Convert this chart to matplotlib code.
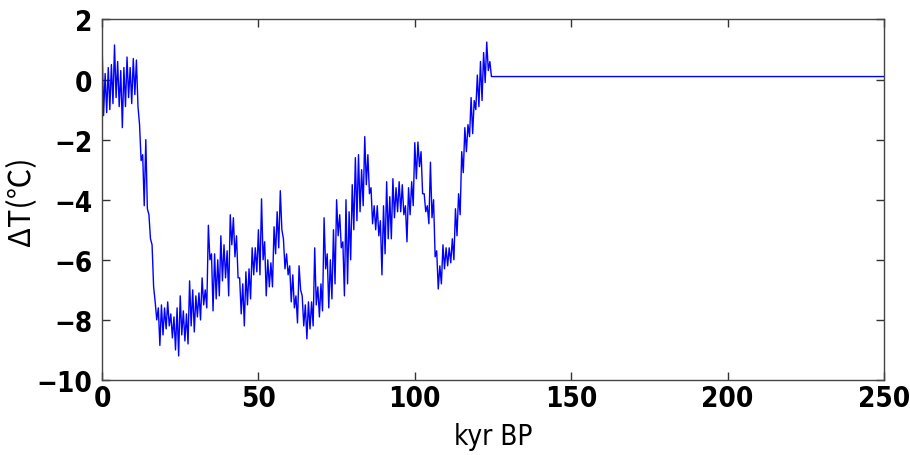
import matplotlib
matplotlib.use("Agg")
import matplotlib.pyplot as plt
from matplotlib import font_manager
import numpy as np

kyr = list(range(0, 125))
dt_high = [
    1.3, 0.2, 0.4, 0.5, 1.15, 0.6, 0.3, 0.4, 0.75, 0.4,
    0.7, 0.65, -1.5, -2.5, -2.0, -4.5, -5.5, -7.4, -7.6, -7.5,
    -7.6, -7.4, -7.8, -7.9, -7.6, -7.2, -7.7, -7.8, -6.7, -7.0,
    -7.2, -7.1, -6.6, -7.0, -4.85, -5.8, -5.8, -6.0, -5.2, -5.5,
    -5.7, -4.5, -4.6, -5.2, -6.6, -6.8, -6.4, -6.3, -5.6, -5.6,
    -5.0, -3.97, -5.4, -6.0, -6.1, -4.9, -4.4, -3.7, -5.3, -5.8,
    -6.2, -6.5, -7.2, -6.2, -7.2, -7.5, -7.4, -7.4, -5.6, -6.9,
    -6.8, -4.6, -5.8, -6.0, -5.0, -4.0, -4.5, -5.4, -4.0, -4.4,
    -3.5, -2.6, -2.5, -3.0, -1.9, -2.5, -3.6, -4.2, -4.2, -4.7,
    -4.2, -3.4, -3.9, -3.3, -3.6, -3.4, -3.5, -4.2, -3.6, -3.4,
    -2.1, -2.08, -2.4, -3.8, -4.2, -2.75, -4.0, -5.7, -6.2, -5.5,
    -5.6, -5.6, -5.3, -4.3, -3.8, -2.4, -1.6, -1.5, -0.6, -0.7,
    0.15, 0.6, 0.9, 1.25, 0.6,
]
dt_low = [
    -1.2, -1.1, -1.0, -0.8, -0.6, -0.9, -1.6, -0.9, -0.6, -0.8,
    -0.5, -0.9, -2.7, -4.2, -4.3, -5.3, -6.9, -8.0, -8.85, -8.5,
    -8.3, -8.2, -8.6, -9.0, -9.2, -8.5, -8.7, -8.8, -8.2, -8.4,
    -7.9, -8.0, -7.5, -7.6, -6.0, -7.7, -7.3, -7.2, -6.7, -6.6,
    -7.2, -5.5, -5.9, -6.6, -7.8, -8.2, -7.5, -7.3, -6.5, -6.4,
    -6.5, -6.0, -7.2, -6.9, -6.9, -5.8, -5.6, -5.0, -6.3, -6.5,
    -7.4, -7.6, -8.1, -7.0, -8.2, -8.63, -8.3, -8.2, -7.5, -7.9,
    -7.7, -6.3, -7.6, -7.3, -6.8, -5.2, -5.6, -7.2, -6.8, -6.0,
    -5.0, -4.7, -4.4, -4.2, -3.5, -3.8, -4.8, -5.0, -5.2, -6.5,
    -5.8, -5.3, -5.3, -4.6, -4.4, -4.4, -4.5, -5.4, -4.5, -4.2,
    -3.3, -2.9, -3.8, -4.4, -4.8, -4.6, -5.9, -6.97, -6.8, -6.3,
    -6.2, -6.1, -6.0, -5.2, -4.5, -3.1, -2.4, -1.9, -1.8, -1.0,
    -0.9, -0.7, -0.1, 0.3, 0.1,
]
# constant tail after the record ends
tail_kyr = [124.5, 250]
tail_dt = [0.1, 0.1]

x = []
y = []
for k, hi, lo in zip(kyr, dt_high, dt_low):
    x += [k, k + 0.5]
    y += [hi, lo]
x += tail_kyr
y += tail_dt

# narrow bold face for ticks, like the MATLAB export
tick_fp = font_manager.FontProperties(family="DejaVu Sans", stretch="condensed",
                                      weight="bold", size=20)
label_fp = font_manager.FontProperties(family="DejaVu Sans", stretch="condensed", size=20)

fig = plt.figure(figsize=(9.1, 4.56), dpi=100)
ax = fig.add_axes([0.1121, 0.1645, 0.8593, 0.7906])
ax.plot(x, y, color="#0000ff", linewidth=1.0)

ax.set_xlim(0, 250)
ax.set_ylim(-10, 2)
ax.set_xticks(np.arange(0, 251, 50))
ax.set_yticks(np.arange(-10, 3, 2))
ax.set_yticklabels(["\u221210", "\u22128", "\u22126", "\u22124", "\u22122", "0", "2"])
for lab in ax.get_xticklabels() + ax.get_yticklabels():
    lab.set_fontproperties(tick_fp)

ax.tick_params(direction="in", length=6, width=1, top=True, right=True, color="#333333")
ax.tick_params(axis="y", pad=7)
ax.tick_params(axis="x", pad=3)
for s in ax.spines.values():
    s.set_color("#444444")
    s.set_linewidth(1)

ax.set_xlabel("kyr BP", fontproperties=label_fp, labelpad=7)
ax.set_ylabel("\u0394T(\u2103)", fontsize=22, family=["Noto Sans CJK JP", "DejaVu Sans"])
ax.yaxis.set_label_coords(-0.083, 0.5)

fig.savefig("out.png", dpi=100, facecolor="white")
